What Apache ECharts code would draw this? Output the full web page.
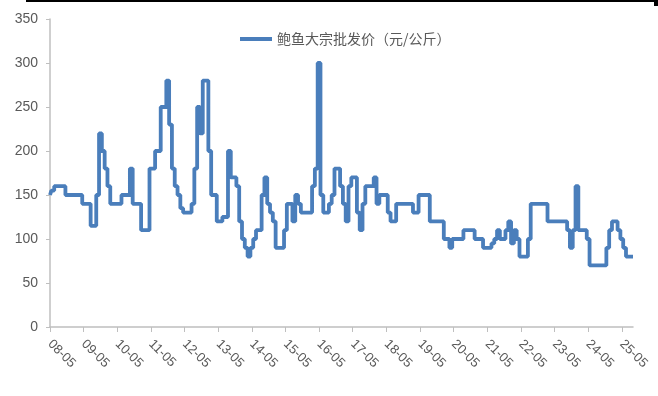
<!DOCTYPE html>
<html>
<head>
<meta charset="utf-8">
<script src="https://cdn.jsdelivr.net/npm/echarts@6/dist/echarts.min.js"></script>
<style>
  html, body { margin: 0; padding: 0; background: #fff; }
  #main { width: 658px; height: 396px; }
</style>
</head>
<body>
<div id="main"></div>
<script>
// 月度数据，2008-05 起
var startYear = 2008;
var startMonth = 5;
var prices = [
  150,155,160,160,160,160,150,150,150,150,150,150,
  140,140,140,115,115,150,220,200,180,160,140,140,
  140,140,150,150,150,180,140,140,140,110,110,110,
  180,180,200,200,250,250,280,230,180,160,150,135,
  130,130,130,140,180,250,220,280,280,200,150,150,
  120,120,125,125,200,170,170,160,120,100,90,80,
  90,100,110,110,150,170,140,130,120,90,90,90,
  110,140,140,120,150,140,130,130,130,130,160,180,
  300,150,130,130,140,150,180,180,160,140,120,160,
  170,170,130,110,140,160,160,160,170,140,150,150,
  150,130,120,120,140,140,140,140,140,140,130,130,
  150,150,150,150,120,120,120,120,120,100,100,90,
  100,100,100,100,110,110,110,110,100,100,100,90,
  90,90,95,100,110,100,100,110,120,95,110,100,
  80,80,80,100,140,140,140,140,140,140,120,120,
  120,120,120,120,120,110,90,110,160,110,110,110,
  100,70,70,70,70,70,70,90,110,120,120,110,
  100,90,80,80,80
];
var seriesName = '鲍鱼大宗批发价（元/公斤）';

var months = [];
for (var i = 0; i < prices.length; i++) {
  var t = startMonth - 1 + i;
  var yy = (startYear + Math.floor(t / 12)) % 100;
  var mm = (t % 12) + 1;
  months.push((yy < 10 ? '0' : '') + yy + '-' + (mm < 10 ? '0' : '') + mm);
}

var myChart = echarts.init(document.getElementById('main'));
var showYear = function (index) { return index % 12 === 0; };

myChart.setOption({
  animation: false,
  graphic: [{
    type: 'rect',
    shape: { x: 26, y: 0, width: 632, height: 2 },
    style: { fill: '#000' }
  }, {
    type: 'rect',
    shape: { x: 654, y: 0, width: 4, height: 6 },
    style: { fill: '#000' }
  }],
  legend: {
    data: [seriesName],
    top: 27,
    left: 235,
    icon: 'rect',
    itemWidth: 32,
    itemHeight: 4,
    itemGap: 4,
    textStyle: { color: '#595959', fontSize: 14, fontFamily: 'Noto Sans CJK SC' }
  },
  grid: { left: 50, right: 25, top: 19, bottom: 69, containLabel: false },
  xAxis: {
    type: 'category',
    data: months,
    boundaryGap: false,
    axisLine: { lineStyle: { color: '#bfbfbf', width: 1.5 } },
    axisTick: { interval: showYear, length: 5, lineStyle: { color: '#bfbfbf' } },
    axisLabel: {
      interval: showYear,
      rotate: -45,
      margin: 15,
      color: '#595959',
      fontSize: 13,
      fontFamily: 'Liberation Sans'
    }
  },
  yAxis: {
    type: 'value',
    min: 0,
    max: 350,
    interval: 50,
    axisLine: { show: true, lineStyle: { color: '#bfbfbf', width: 1.5 } },
    axisTick: { show: true, length: 4, lineStyle: { color: '#bfbfbf' } },
    splitLine: { show: false },
    axisLabel: { color: '#595959', fontSize: 14, margin: 12, fontFamily: 'Liberation Sans' }
  },
  series: [{
    name: seriesName,
    type: 'line',
    step: 'middle',
    data: prices,
    symbol: 'none',
    lineStyle: { color: '#4a7ebb', width: 3.8 },
    itemStyle: { color: '#4a7ebb' }
  }]
});
</script>
</body>
</html>
